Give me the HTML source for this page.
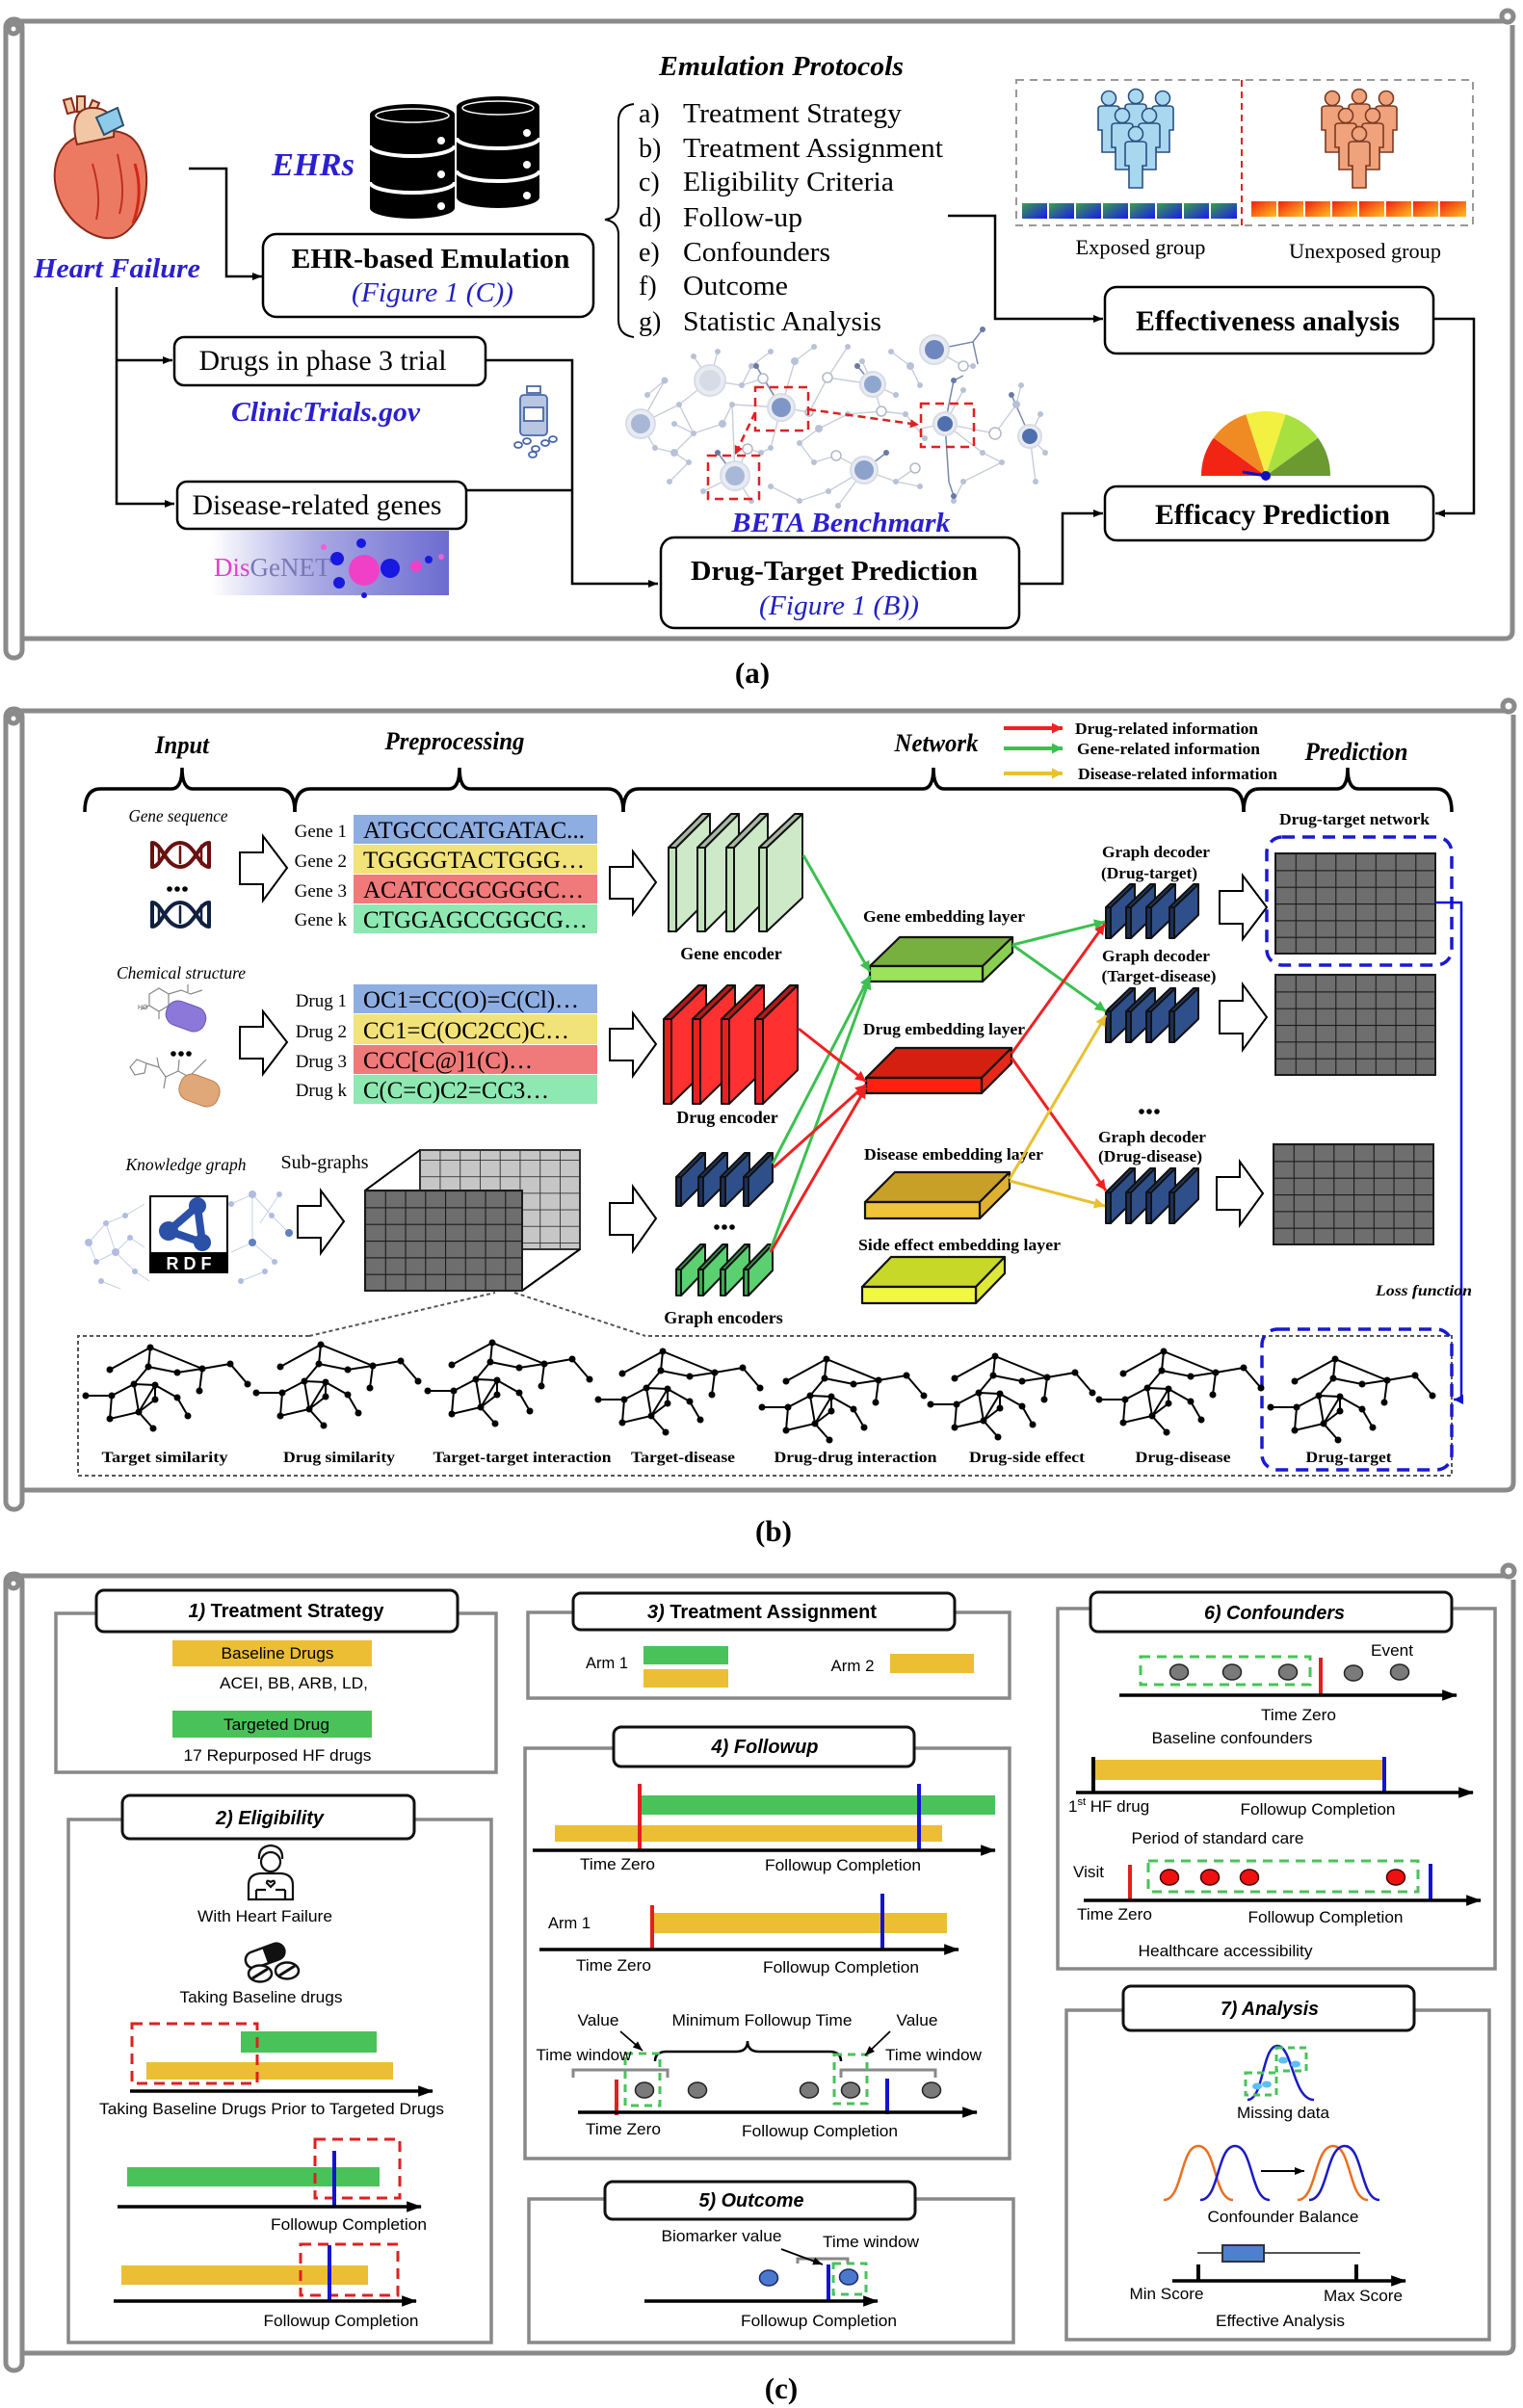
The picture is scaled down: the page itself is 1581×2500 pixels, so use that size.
<!DOCTYPE html>
<html><head><meta charset="utf-8">
<style>
html,body{margin:0;padding:0;background:#fff;}
svg{display:block;}
.s{font-family:"Liberation Serif",serif;}
.a{font-family:"Liberation Sans",sans-serif;}
</style></head><body>
<svg width="1581" height="2500" viewBox="0 0 1581 2500" xmlns="http://www.w3.org/2000/svg">
<defs>
<marker id="ak" viewBox="0 0 10 10" refX="10" refY="5" markerWidth="11" markerHeight="10" markerUnits="userSpaceOnUse" orient="auto"><path d="M0,1 L10,5 L0,9 z" fill="#000"/></marker>
<marker id="akb" viewBox="0 0 14 10" refX="13" refY="5" markerWidth="16" markerHeight="12" markerUnits="userSpaceOnUse" orient="auto"><path d="M0,0 L14,5 L0,10 z" fill="#000"/></marker>
<marker id="ar" viewBox="0 0 10 10" refX="10" refY="5" markerWidth="13" markerHeight="11" markerUnits="userSpaceOnUse" orient="auto"><path d="M0,0 L10,5 L0,10 z" fill="#ee2222"/></marker>
<marker id="ag" viewBox="0 0 10 10" refX="10" refY="5" markerWidth="13" markerHeight="11" markerUnits="userSpaceOnUse" orient="auto"><path d="M0,0 L10,5 L0,10 z" fill="#3cc050"/></marker>
<marker id="ay" viewBox="0 0 10 10" refX="10" refY="5" markerWidth="13" markerHeight="11" markerUnits="userSpaceOnUse" orient="auto"><path d="M0,0 L10,5 L0,10 z" fill="#e8c030"/></marker>
<marker id="ab" viewBox="0 0 10 10" refX="10" refY="5" markerWidth="11" markerHeight="10" markerUnits="userSpaceOnUse" orient="auto"><path d="M0,0 L10,5 L0,10 z" fill="#1010e0"/></marker>
<marker id="ard" viewBox="0 0 10 10" refX="10" refY="5" markerWidth="10" markerHeight="9" markerUnits="userSpaceOnUse" orient="auto"><path d="M0,0 L10,5 L0,10 z" fill="#e02020"/></marker>
<linearGradient id="gb" x1="0" y1="0" x2="1" y2="1"><stop offset="0" stop-color="#3aa048"/><stop offset="1" stop-color="#1818f0"/></linearGradient>
<linearGradient id="go" x1="0" y1="0" x2="1" y2="1"><stop offset="0" stop-color="#f02010"/><stop offset="1" stop-color="#ffc020"/></linearGradient>
<linearGradient id="gd" x1="0" y1="0" x2="1" y2="0"><stop offset="0" stop-color="#ffffff"/><stop offset="0.45" stop-color="#a8a8e4"/><stop offset="1" stop-color="#6c6cd0"/></linearGradient>
<pattern id="pd" patternUnits="userSpaceOnUse" width="20.75" height="17.33"><rect width="20.75" height="17.33" fill="#6e6e6e"/><path d="M0,0 H20.75 M0,0 V17.33" stroke="#1a1a1a" stroke-width="2.2"/></pattern>
<pattern id="pl" patternUnits="userSpaceOnUse" width="20.75" height="17.2"><rect width="20.75" height="17.2" fill="#c6c6c6"/><path d="M0,0 H20.75 M0,0 V17.2" stroke="#333" stroke-width="1.8"/></pattern>
<g id="person">
<circle cx="0" cy="0" r="7.5"/>
<path d="M-11,11 Q-11,8 -7,8 L7,8 Q11,8 11,11 L11,33 L7,33 L7,56 L-7,56 L-7,33 L-11,33 Z"/>
</g>
<g id="gr">
<g stroke="#000" stroke-width="2" fill="none">
<path d="M68,6 L26,29 M68,6 L66,26 M68,6 L122,28 M66,26 L96,32 L122,28 L151,23 L169,44 M122,28 L119,51 M66,26 L51,44 L73,45 L96,58 L107,77 M51,44 L28,56 L1,56 M28,56 L26,80 L56,73 L73,60 L73,45 M51,44 L56,73 L71,90 M73,45 L56,73"/>
</g>
<g fill="#000">
<circle cx="68" cy="6" r="3.5"/><circle cx="26" cy="29" r="3.5"/><circle cx="66" cy="26" r="3.5"/><circle cx="96" cy="32" r="3.5"/><circle cx="122" cy="28" r="3.5"/><circle cx="151" cy="23" r="3.5"/><circle cx="169" cy="44" r="3.5"/><circle cx="119" cy="51" r="3.5"/><circle cx="51" cy="44" r="3.5"/><circle cx="73" cy="45" r="3.5"/><circle cx="28" cy="56" r="3.5"/><circle cx="1" cy="56" r="3.5"/><circle cx="73" cy="60" r="3.5"/><circle cx="96" cy="58" r="3.5"/><circle cx="56" cy="73" r="3.5"/><circle cx="26" cy="80" r="3.5"/><circle cx="107" cy="77" r="3.5"/><circle cx="71" cy="90" r="3.5"/>
</g>
</g>
</defs>
<rect width="1581" height="2500" fill="#fff"/>

<!-- FRAMES -->
<g fill="none" stroke="#8a8a8a" stroke-width="5">
<path d="M14,22 H1562 M1570,26 V655 Q1570,663 1562,663 H22"/>
<rect x="6" y="20" width="17" height="663" rx="8"/>
<circle cx="1565" cy="17" r="6"/><circle cx="14" cy="30" r="5"/>
<path d="M14,738 H1562 M1571,742 V1539 Q1571,1547 1563,1547 H22"/>
<rect x="6" y="736" width="17" height="831" rx="8"/>
<circle cx="1566" cy="733" r="6"/><circle cx="14" cy="746" r="5"/>
<path d="M14,1636 H1562 M1571,1640 V2435 Q1571,2443 1563,2443 H22"/>
<rect x="6" y="1634" width="17" height="827" rx="8"/>
<circle cx="1566" cy="1631" r="6"/><circle cx="14" cy="1644" r="5"/>
</g>
<text x="781" y="709" class="s" font-size="31" font-weight="bold" text-anchor="middle">(a)</text>
<text x="803" y="1600" class="s" font-size="31" font-weight="bold" text-anchor="middle">(b)</text>
<text x="811" y="2490" class="s" font-size="31" font-weight="bold" text-anchor="middle">(c)</text>

<!-- ========== PANEL A ========== -->
<g stroke="#8a2a18" stroke-width="2">
<path d="M70,118 L66,104 L74,102 L78,116 Z" fill="#f2c7a6"/>
<path d="M80,116 L80,100 L88,100 L88,116 Z" fill="#f2c7a6"/>
<path d="M90,118 L96,104 L103,107 L97,120 Z" fill="#f2c7a6"/>
<path d="M68,150 C48,172 54,218 90,240 C112,253 132,250 146,220 C158,190 152,150 132,140 C116,132 86,134 68,150 Z" fill="#ec7a62"/>
<path d="M80,150 C74,128 78,112 96,112 C112,112 120,122 118,142 Z" fill="#f2c7a6"/>
<path d="M100,122 L122,112 L128,130 L108,140 Z" fill="#8ecbe8" stroke="#2a5070"/>
<path d="M96,170 C102,190 104,210 100,228 M122,160 C126,180 130,200 124,222" fill="none" stroke="#c03020"/>
<path d="M140,170 C146,190 146,210 138,232" fill="none" stroke="#d02818" stroke-width="3"/>
</g>
<text x="35" y="288" class="s" font-size="29" font-weight="bold" font-style="italic" fill="#2b1fd0" textLength="173" lengthAdjust="spacingAndGlyphs">Heart Failure</text>
<text x="282" y="182" class="s" font-size="34" font-weight="bold" font-style="italic" fill="#2b1fd0" textLength="86" lengthAdjust="spacingAndGlyphs">EHRs</text>
<g>
<path d="M384,119 A44,11 0 0 1 472,119 L472,216 A44,11 0 0 1 384,216 Z" fill="#000"/>
<ellipse cx="428" cy="120" rx="38" ry="7" fill="none" stroke="#fff" stroke-width="1.5"/>
<path d="M384,151 A44,11 0 0 0 472,151 M384,189 A44,11 0 0 0 472,189" fill="none" stroke="#fff" stroke-width="4"/>
<circle cx="458" cy="146" r="4" fill="#fff"/><circle cx="458" cy="181" r="4" fill="#fff"/><circle cx="458" cy="214" r="4" fill="#fff"/>
<path d="M474,111 A43,11 0 0 1 560,111 L560,205 A43,11 0 0 1 474,205 Z" fill="#000"/>
<ellipse cx="517" cy="112" rx="37" ry="7" fill="none" stroke="#fff" stroke-width="1.5"/>
<path d="M474,143 A43,11 0 0 0 560,143 M474,177 A43,11 0 0 0 560,177" fill="none" stroke="#fff" stroke-width="4"/>
<circle cx="547" cy="138" r="4" fill="#fff"/><circle cx="547" cy="171" r="4" fill="#fff"/><circle cx="547" cy="203" r="4" fill="#fff"/>
</g>
<polyline points="196,175 235,175 235,287 272,287" fill="none" stroke="#000" stroke-width="2.5" marker-end="url(#ak)"/>
<rect x="273" y="243" width="343" height="86" rx="14" fill="#fff" stroke="#000" stroke-width="2.5"/>
<text x="447" y="278" class="s" font-size="28" font-weight="bold" text-anchor="middle" textLength="289" lengthAdjust="spacingAndGlyphs">EHR-based Emulation</text>
<text x="449" y="313" class="s" font-size="28" font-style="italic" fill="#2020c0" text-anchor="middle" textLength="168" lengthAdjust="spacingAndGlyphs">(Figure 1 (C))</text>
<path d="M658,108 Q642,110 642,126 L642,212 Q642,226 628,228 Q642,230 642,244 L642,332 Q642,348 658,350" fill="none" stroke="#000" stroke-width="2"/>
<text x="684" y="78" class="s" font-size="28" font-weight="bold" font-style="italic" textLength="254" lengthAdjust="spacingAndGlyphs">Emulation Protocols</text>
<g class="s" font-size="28">
<text x="663" y="127">a)</text><text x="709" y="127" textLength="227" lengthAdjust="spacingAndGlyphs">Treatment Strategy</text>
<text x="663" y="163">b)</text><text x="709" y="163" textLength="270" lengthAdjust="spacingAndGlyphs">Treatment Assignment</text>
<text x="663" y="198">c)</text><text x="709" y="198" textLength="219" lengthAdjust="spacingAndGlyphs">Eligibility Criteria</text>
<text x="663" y="235">d)</text><text x="709" y="235" textLength="124" lengthAdjust="spacingAndGlyphs">Follow-up</text>
<text x="663" y="271">e)</text><text x="709" y="271" textLength="153" lengthAdjust="spacingAndGlyphs">Confounders</text>
<text x="663" y="306">f)</text><text x="709" y="306" textLength="109" lengthAdjust="spacingAndGlyphs">Outcome</text>
<text x="663" y="343">g)</text><text x="709" y="343" textLength="206" lengthAdjust="spacingAndGlyphs">Statistic Analysis</text>
</g>
<path d="M665,440 L690,395 M665,440 L705,420 M665,440 L680,465 M680,465 L700,470 M700,470 L720,450 M720,450 L705,420 M705,420 L737,395 M737,395 L720,370 M737,395 L745,365 M737,395 L770,400 M770,400 L780,380 M780,380 L800,365 M770,400 L792,393 M792,393 L811,423 M811,423 L760,420 M760,420 L750,440 M750,440 L720,450 M811,423 L840,428 M840,428 L859,392 M859,392 L880,360 M859,392 L906,399 M906,399 L895,375 M906,399 L930,410 M906,399 L915,427 M915,427 L940,430 M940,430 L960,455 M915,427 L880,430 M880,430 L850,445 M850,445 L830,460 M830,460 L845,480 M845,480 L868,473 M868,473 L897,488 M897,488 L860,510 M860,510 L830,520 M897,488 L930,500 M930,500 L950,486 M897,488 L870,525 M811,423 L800,465 M800,465 L790,470 M763,494 L730,510 M763,494 L780,520 M763,494 L776,466 M776,466 L790,470 M695,500 L715,480 M715,480 L700,470 M970,363 L1000,380 M1000,380 L1010,380 M981,440 L1000,405 M981,440 L1020,470 M981,440 L955,445 M981,440 L1033,450 M1033,450 L1055,420 M1055,420 L1060,400 M1069,453 L1080,430 M1069,453 L1085,470 M1020,470 L1040,480 M1040,480 L1000,500 M1000,500 L990,520 M1069,453 L1075,500 M945,380 L925,365 M955,400 L945,380 M825,375 L845,360 M825,375 L811,423 M672,410 L690,395 M700,440 L720,450 M760,420 L763,494 M830,520 L800,505 M930,500 L955,505" fill="none" stroke="#c8cdd9" stroke-width="1.4"/>
<path d="M811,423 L785,380 M981,440 L990,395 L1000,390 M981,440 L985,500 L990,515 M1069,453 L1050,410 M970,363 L1010,355 L1020,342 M1010,355 L1015,378 M906,399 L890,380 M897,488 L920,470 M763,494 L745,470" fill="none" stroke="#7888aa" stroke-width="1.5"/>
<g fill="#e8ebf2" stroke="#d8dce6" stroke-width="2">
<circle cx="737" cy="395" r="16"/><circle cx="665" cy="440" r="15"/><circle cx="811" cy="423" r="14"/><circle cx="763" cy="494" r="15"/><circle cx="906" cy="399" r="13"/><circle cx="897" cy="488" r="14"/><circle cx="970" cy="363" r="15"/><circle cx="981" cy="440" r="12"/><circle cx="1069" cy="453" r="12"/>
</g>
<circle cx="737" cy="395" r="11" fill="#d6dbe6"/><circle cx="665" cy="440" r="10" fill="#a9b7d6"/><circle cx="811" cy="423" r="10" fill="#7f97c6"/><circle cx="763" cy="494" r="10" fill="#a8b8d8"/><circle cx="906" cy="399" r="9" fill="#8fa6cf"/><circle cx="897" cy="488" r="10" fill="#8ca2cb"/><circle cx="970" cy="363" r="10" fill="#6f87bf"/><circle cx="981" cy="440" r="8" fill="#4f6faf"/><circle cx="1069" cy="453" r="8" fill="#4f6faf"/>
<g fill="#b8c2d6">
<circle cx="672" cy="410" r="3"/><circle cx="690" cy="395" r="3.5"/><circle cx="705" cy="420" r="3"/><circle cx="680" cy="465" r="3"/><circle cx="700" cy="470" r="4"/><circle cx="720" cy="450" r="3"/><circle cx="715" cy="480" r="3"/><circle cx="695" cy="500" r="3"/><circle cx="730" cy="510" r="3"/><circle cx="750" cy="440" r="4"/><circle cx="760" cy="420" r="3"/><circle cx="770" cy="400" r="3"/><circle cx="780" cy="380" r="3"/><circle cx="800" cy="365" r="3"/><circle cx="825" cy="375" r="4"/><circle cx="845" cy="360" r="3"/><circle cx="880" cy="360" r="3"/><circle cx="895" cy="375" r="3"/><circle cx="925" cy="365" r="3"/><circle cx="945" cy="380" r="4"/><circle cx="930" cy="410" r="3"/><circle cx="955" cy="400" r="3"/><circle cx="940" cy="430" r="3"/><circle cx="960" cy="455" r="3"/><circle cx="880" cy="430" r="3"/><circle cx="850" cy="445" r="4"/><circle cx="830" cy="460" r="3"/><circle cx="845" cy="480" r="3"/><circle cx="860" cy="510" r="3"/><circle cx="830" cy="520" r="3"/><circle cx="800" cy="505" r="3"/><circle cx="780" cy="520" r="3"/><circle cx="870" cy="525" r="3"/><circle cx="930" cy="500" r="3"/><circle cx="955" cy="505" r="3"/><circle cx="1000" cy="405" r="3"/><circle cx="1010" cy="380" r="3"/><circle cx="1020" cy="470" r="3"/><circle cx="1040" cy="480" r="3"/><circle cx="1055" cy="420" r="4"/><circle cx="1060" cy="400" r="3"/><circle cx="1080" cy="430" r="3"/><circle cx="1085" cy="470" r="3"/><circle cx="1000" cy="500" r="3"/><circle cx="990" cy="520" r="3"/><circle cx="1075" cy="500" r="3"/><circle cx="720" cy="370" r="3"/><circle cx="745" cy="365" r="3"/><circle cx="700" cy="440" r="3"/><circle cx="790" cy="470" r="3"/><circle cx="800" cy="465" r="3"/>
</g>
<g fill="#6a7aa4"><circle cx="785" cy="380" r="3"/><circle cx="990" cy="395" r="3"/><circle cx="1020" cy="342" r="3"/><circle cx="990" cy="515" r="3"/><circle cx="1050" cy="410" r="3"/><circle cx="890" cy="380" r="3"/><circle cx="745" cy="470" r="3"/><circle cx="920" cy="470" r="3"/></g>
<g fill="#fff" stroke="#b0b8c8" stroke-width="1.5"><circle cx="792" cy="393" r="5"/><circle cx="859" cy="392" r="5"/><circle cx="915" cy="427" r="5"/><circle cx="950" cy="486" r="5"/><circle cx="868" cy="473" r="5"/><circle cx="1033" cy="450" r="6"/><circle cx="776" cy="466" r="5"/><circle cx="1000" cy="380" r="5"/><circle cx="840" cy="428" r="4"/></g>
<g fill="none" stroke="#e02020" stroke-width="2.5" stroke-dasharray="9,6">
<rect x="784" y="402" width="55" height="45"/><rect x="735" y="473" width="53" height="45"/><rect x="956" y="419" width="55" height="45"/>
</g>
<line x1="839" y1="425" x2="954" y2="441" stroke="#e02020" stroke-width="2.5" stroke-dasharray="8,5" marker-end="url(#ard)"/>
<line x1="784" y1="428" x2="763" y2="472" stroke="#e02020" stroke-width="2.5" stroke-dasharray="8,5" marker-end="url(#ard)"/>
<text x="873" y="552" class="s" font-size="28" font-weight="bold" font-style="italic" fill="#2b1fd0" text-anchor="middle" textLength="227" lengthAdjust="spacingAndGlyphs">BETA Benchmark</text>
<polyline points="121,298 121,523 181,523" fill="none" stroke="#000" stroke-width="2.5" marker-end="url(#ak)"/>
<polyline points="121,374 179,374" fill="none" stroke="#000" stroke-width="2.5" marker-end="url(#ak)"/>
<rect x="181" y="350" width="323" height="50" rx="10" fill="#fff" stroke="#000" stroke-width="2.5"/>
<text x="335" y="384" class="s" font-size="30" text-anchor="middle" textLength="257" lengthAdjust="spacingAndGlyphs">Drugs in phase 3 trial</text>
<text x="240" y="437" class="s" font-size="28" font-weight="bold" font-style="italic" fill="#2b1fd0" textLength="196" lengthAdjust="spacingAndGlyphs">ClinicTrials.gov</text>
<g stroke="#4868a8" stroke-width="1.8">
<rect x="547" y="401" width="14" height="7" fill="#fff"/>
<rect x="540" y="410" width="28" height="42" rx="4" fill="#b8c6e2"/>
<rect x="544" y="423" width="20" height="14" fill="#fff"/>
<ellipse cx="538" cy="462" rx="4" ry="3" fill="#fff"/><ellipse cx="547" cy="458" rx="4" ry="3" fill="#fff"/><ellipse cx="556" cy="466" rx="4" ry="3" fill="#fff"/><ellipse cx="566" cy="460" rx="4" ry="3" fill="#fff"/><ellipse cx="574" cy="456" rx="4" ry="3" fill="#fff"/><ellipse cx="553" cy="472" rx="4" ry="3" fill="#fff"/>
</g>
<rect x="184" y="500" width="300" height="49" rx="10" fill="#fff" stroke="#000" stroke-width="2.5"/>
<text x="329" y="534" class="s" font-size="30" text-anchor="middle" textLength="259" lengthAdjust="spacingAndGlyphs">Disease-related genes</text>
<rect x="219" y="551" width="247" height="67" fill="url(#gd)"/>
<text x="222" y="598" class="s" font-size="27"><tspan fill="#e040c8">Dis</tspan><tspan fill="#7878b8">GeNET</tspan></text>
<circle cx="378" cy="592" r="16" fill="#f040c8"/><circle cx="405" cy="590" r="10" fill="#1818e0"/><circle cx="350" cy="580" r="7" fill="#1818e0"/><circle cx="352" cy="605" r="6" fill="#1818e0"/><circle cx="432" cy="588" r="6" fill="#f040c8"/><circle cx="445" cy="581" r="4" fill="#1818e0"/><circle cx="375" cy="564" r="5" fill="#1818e0"/><circle cx="336" cy="568" r="3" fill="#f060d0"/><circle cx="378" cy="618" r="3" fill="#1818e0"/><circle cx="458" cy="578" r="3" fill="#f060d0"/>
<polyline points="504,374 594,374 594,606 683,606" fill="none" stroke="#000" stroke-width="2.5" marker-end="url(#ak)"/>
<line x1="484" y1="509" x2="594" y2="509" stroke="#000" stroke-width="2.5"/>
<rect x="686" y="558" width="372" height="94" rx="14" fill="#fff" stroke="#000" stroke-width="2.5"/>
<text x="866" y="602" class="s" font-size="28" font-weight="bold" text-anchor="middle" textLength="298" lengthAdjust="spacingAndGlyphs">Drug-Target Prediction</text>
<text x="871" y="638" class="s" font-size="28" font-style="italic" fill="#2020c0" text-anchor="middle" textLength="166" lengthAdjust="spacingAndGlyphs">(Figure 1 (B))</text>
<rect x="1055" y="83" width="474" height="151" fill="none" stroke="#999" stroke-width="2" stroke-dasharray="8,6"/>
<line x1="1289" y1="83" x2="1289" y2="234" stroke="#e02020" stroke-width="2" stroke-dasharray="7,5"/>
<g fill="#a8d8f0" stroke="#2a5080" stroke-width="1.6">
<use href="#person" x="1151" y="102"/><use href="#person" x="1207" y="102"/><use href="#person" x="1179" y="100"/>
<use href="#person" x="1165" y="120"/><use href="#person" x="1193" y="120"/><use href="#person" x="1179" y="139"/>
</g>
<g fill="#f0a27c" stroke="#7a3a20" stroke-width="1.6">
<use href="#person" x="1383" y="102"/><use href="#person" x="1439" y="102"/><use href="#person" x="1411" y="100"/>
<use href="#person" x="1397" y="120"/><use href="#person" x="1425" y="120"/><use href="#person" x="1411" y="139"/>
</g>
<g fill="url(#gb)"><rect x="1061" y="211" width="26" height="16"/><rect x="1089" y="211" width="26" height="16"/><rect x="1117" y="211" width="26" height="16"/><rect x="1145" y="211" width="26" height="16"/><rect x="1173" y="211" width="26" height="16"/><rect x="1201" y="211" width="26" height="16"/><rect x="1229" y="211" width="26" height="16"/><rect x="1257" y="211" width="27" height="16"/></g>
<g fill="url(#go)"><rect x="1299" y="209" width="26" height="16"/><rect x="1327" y="209" width="26" height="16"/><rect x="1355" y="209" width="26" height="16"/><rect x="1383" y="209" width="26" height="16"/><rect x="1411" y="209" width="26" height="16"/><rect x="1439" y="209" width="26" height="16"/><rect x="1467" y="209" width="26" height="16"/><rect x="1495" y="209" width="27" height="16"/></g>
<text x="1184" y="264" class="s" font-size="22" text-anchor="middle" textLength="135" lengthAdjust="spacingAndGlyphs">Exposed group</text>
<text x="1417" y="268" class="s" font-size="22" text-anchor="middle" textLength="158" lengthAdjust="spacingAndGlyphs">Unexposed group</text>
<polyline points="984,224 1033,224 1033,331 1145,331" fill="none" stroke="#000" stroke-width="2.5" marker-end="url(#ak)"/>
<rect x="1147" y="298" width="341" height="69" rx="12" fill="#fff" stroke="#000" stroke-width="2.5"/>
<text x="1316" y="343" class="s" font-size="30" font-weight="bold" text-anchor="middle" textLength="274" lengthAdjust="spacingAndGlyphs">Effectiveness analysis</text>
<polyline points="1488,331 1530,331 1530,533 1490,533" fill="none" stroke="#000" stroke-width="2.5" marker-end="url(#ak)"/>
<polyline points="1058,606 1103,606 1103,533 1145,533" fill="none" stroke="#000" stroke-width="2.5" marker-end="url(#ak)"/>
<rect x="1147" y="505" width="341" height="56" rx="12" fill="#fff" stroke="#000" stroke-width="2.5"/>
<text x="1321" y="544" class="s" font-size="30" font-weight="bold" text-anchor="middle" textLength="244" lengthAdjust="spacingAndGlyphs">Efficacy Prediction</text>
<path d="M1314,494 L1247,494 A67,67 0 0 1 1259.8,454.6 Z" fill="#f22414"/>
<path d="M1314,494 L1259.8,454.6 A67,67 0 0 1 1293.3,430.3 Z" fill="#f08a22"/>
<path d="M1314,494 L1293.3,430.3 A67,67 0 0 1 1334.7,430.3 Z" fill="#f2f040"/>
<path d="M1314,494 L1334.7,430.3 A67,67 0 0 1 1368.2,454.6 Z" fill="#a8e040"/>
<path d="M1314,494 L1368.2,454.6 A67,67 0 0 1 1381,494 Z" fill="#6a9a30"/>
<line x1="1314" y1="494" x2="1290" y2="490" stroke="#1010c0" stroke-width="3"/>
<circle cx="1314" cy="494" r="5" fill="#1010c0"/>

<!-- ========== PANEL B ========== -->
<g class="s" font-weight="bold" font-style="italic" font-size="26">
<text x="189" y="782" text-anchor="middle" textLength="56" lengthAdjust="spacingAndGlyphs">Input</text>
<text x="472" y="778" text-anchor="middle" textLength="145" lengthAdjust="spacingAndGlyphs">Preprocessing</text>
<text x="972" y="780" text-anchor="middle" textLength="87" lengthAdjust="spacingAndGlyphs">Network</text>
<text x="1408" y="789" text-anchor="middle" textLength="107" lengthAdjust="spacingAndGlyphs">Prediction</text>
</g>
<g fill="none" stroke="#000" stroke-width="3.5">
<path d="M88,843 Q88,819 104,819 L178,819 Q189,819 189,797 Q189,819 200,819 L290,819 Q306,819 306,843"/>
<path d="M306,843 Q306,819 322,819 L466,819 Q477,819 477,797 Q477,819 488,819 L631,819 Q647,819 647,843"/>
<path d="M647,843 Q647,819 663,819 L958,819 Q969,819 969,797 Q969,819 980,819 L1275,819 Q1291,819 1291,843"/>
<path d="M1291,843 Q1291,819 1307,819 L1388,819 Q1399,819 1399,797 Q1399,819 1410,819 L1491,819 Q1507,819 1507,843"/>
</g>
<line x1="1042" y1="756" x2="1103" y2="756" stroke="#ee2222" stroke-width="4" marker-end="url(#ar)"/>
<line x1="1042" y1="777" x2="1103" y2="777" stroke="#3cc050" stroke-width="4" marker-end="url(#ag)"/>
<line x1="1042" y1="803" x2="1103" y2="803" stroke="#e8c030" stroke-width="4" marker-end="url(#ay)"/>
<g class="s" font-weight="bold" font-size="17">
<text x="1116" y="762" textLength="190" lengthAdjust="spacingAndGlyphs">Drug-related information</text>
<text x="1118" y="783" textLength="190" lengthAdjust="spacingAndGlyphs">Gene-related information</text>
<text x="1119" y="809" textLength="207" lengthAdjust="spacingAndGlyphs">Disease-related information</text>
</g>
<g class="s" font-style="italic" font-size="18">
<text x="185" y="853" text-anchor="middle" textLength="103" lengthAdjust="spacingAndGlyphs">Gene sequence</text>
<text x="188" y="1016" text-anchor="middle" textLength="134" lengthAdjust="spacingAndGlyphs">Chemical structure</text>
<text x="193" y="1215" text-anchor="middle" textLength="125" lengthAdjust="spacingAndGlyphs">Knowledge graph</text>
</g>
<!-- DNA -->
<g fill="none" stroke-width="4" stroke-linecap="round">
<path d="M158,900 C168,900 172,875 187,875 C202,875 206,900 217,900 M158,875 C168,875 172,900 187,900 C202,900 206,875 217,875 M158,875 V900 M217,875 V900" stroke="#6a1010"/>
<path d="M165,878 V897 M187,879 V896 M209,878 V897" stroke="#6a1010" stroke-width="2.5"/>
<path d="M158,962 C168,962 172,937 187,937 C202,937 206,962 217,962 M158,937 C168,937 172,962 187,962 C202,962 206,937 217,937 M158,937 V962 M217,937 V962" stroke="#102040"/>
<path d="M165,940 V959 M187,941 V958 M209,940 V959" stroke="#102040" stroke-width="2.5"/>
</g>
<g fill="#000"><circle cx="176" cy="923" r="2.8"/><circle cx="184" cy="923" r="2.8"/><circle cx="192" cy="923" r="2.8"/></g>
<!-- chem -->
<g fill="none" stroke="#888" stroke-width="1.2">
<path d="M155,1032 L165,1026 L175,1032 L175,1044 L165,1050 L155,1044 Z M175,1032 L188,1028 L198,1032 L210,1028 M195,1022 V1030 M155,1044 L146,1048 M165,1050 L165,1058"/>
<path d="M135,1108 L142,1100 L152,1104 L150,1114 L140,1116 Z M152,1104 L165,1108 L172,1118 L185,1112 L196,1118 L206,1108 M172,1118 L170,1130 M196,1118 L198,1132 M206,1108 L214,1100 M165,1108 L163,1098 M185,1112 L186,1100"/>
</g>
<text x="143" y="1048" class="a" font-size="7" fill="#666">HO</text>
<rect x="172" y="1042" width="42" height="26" rx="12" transform="rotate(20 193 1055)" fill="#8c78d8" stroke="#6a58b8"/>
<rect x="186" y="1118" width="42" height="28" rx="12" transform="rotate(20 207 1132)" fill="#e0a878" stroke="#b88050"/>
<g fill="#000"><circle cx="180" cy="1094" r="2.8"/><circle cx="188" cy="1094" r="2.8"/><circle cx="196" cy="1094" r="2.8"/></g>
<!-- KG -->
<g stroke="#c8d0e4" stroke-width="1" fill="none">
<path d="M92,1290 L110,1270 L130,1262 L150,1250 M100,1310 L120,1300 L140,1320 L155,1330 M92,1290 L100,1310 M240,1250 L262,1240 L282,1262 L300,1280 M240,1300 L262,1290 L285,1310 M262,1240 L262,1290 M110,1270 L120,1300 M250,1330 L275,1320 M120,1300 L135,1285 L150,1295 M105,1330 L125,1338 M270,1270 L290,1240"/>
</g>
<g fill="#b0bce0"><circle cx="92" cy="1290" r="4"/><circle cx="110" cy="1270" r="3"/><circle cx="130" cy="1262" r="3"/><circle cx="100" cy="1310" r="3"/><circle cx="120" cy="1300" r="4"/><circle cx="140" cy="1320" r="3"/><circle cx="262" cy="1240" r="4"/><circle cx="282" cy="1262" r="3"/><circle cx="300" cy="1280" r="4" fill="#6080c0"/><circle cx="262" cy="1290" r="4" fill="#6080c0"/><circle cx="285" cy="1310" r="3"/><circle cx="250" cy="1330" r="3"/><circle cx="275" cy="1320" r="3"/><circle cx="240" cy="1250" r="3"/><circle cx="135" cy="1285" r="3"/><circle cx="105" cy="1330" r="3"/><circle cx="290" cy="1240" r="3"/></g>
<rect x="156" y="1242" width="80" height="79" fill="#fff" stroke="#000" stroke-width="2"/>
<path d="M205,1252 L175,1278 L210,1290 Z" fill="none" stroke="#2a50a8" stroke-width="8"/>
<circle cx="205" cy="1252" r="9" fill="#2a50a8"/><circle cx="175" cy="1278" r="10" fill="#2a50a8"/><circle cx="210" cy="1290" r="9" fill="#2a50a8"/>
<rect x="156" y="1300" width="80" height="21" fill="#000"/>
<text x="196" y="1318" class="a" font-size="18" font-weight="bold" fill="#fff" text-anchor="middle">R D F</text>
<text x="337" y="1213" class="s" font-size="20" text-anchor="middle" textLength="91" lengthAdjust="spacingAndGlyphs">Sub-graphs</text>
<g fill="#fff" stroke="#000" stroke-width="2">
<path d="M249,885 H273 V868 L298,901 L273,935 V918 H249 Z"/>
<path d="M633,900 H657 V884 L681,916 L657,949 V933 H633 Z"/>
<path d="M249,1066 H273 V1050 L298,1082 L273,1115 V1099 H249 Z"/>
<path d="M633,1068 H657 V1052 L681,1084 L657,1117 V1101 H633 Z"/>
<path d="M309,1252 H333 V1236 L357,1268 L333,1301 V1285 H309 Z"/>
<path d="M633,1249 H657 V1232 L681,1265 L657,1299 V1282 H633 Z"/>
<path d="M1266,925 H1290 V909 L1315,942 L1290,975 V959 H1266 Z"/>
<path d="M1266,1039 H1290 V1022 L1315,1056 L1290,1090 V1073 H1266 Z"/>
<path d="M1263,1222 H1287 V1206 L1311,1239 L1287,1272 V1256 H1263 Z"/>
</g>
<rect x="367" y="846" width="253" height="30" fill="#8eaee2"/>
<rect x="367" y="877" width="253" height="30" fill="#f2e27a"/>
<rect x="367" y="908" width="253" height="30" fill="#f07a7a"/>
<rect x="367" y="939" width="253" height="30" fill="#8ee8b2"/>
<rect x="367" y="1022" width="253" height="30" fill="#8eaee2"/>
<rect x="367" y="1053" width="253" height="31" fill="#f2e27a"/>
<rect x="367" y="1085" width="253" height="30" fill="#f07a7a"/>
<rect x="367" y="1116" width="253" height="30" fill="#8ee8b2"/>
<g class="s" font-size="19" text-anchor="end">
<text x="360" y="869">Gene 1</text><text x="360" y="900">Gene 2</text><text x="360" y="931">Gene 3</text><text x="360" y="961">Gene k</text>
<text x="360" y="1045">Drug 1</text><text x="360" y="1077">Drug 2</text><text x="360" y="1108">Drug 3</text><text x="360" y="1138">Drug k</text>
</g>
<g class="s" font-size="25">
<text x="377" y="870" textLength="230" lengthAdjust="spacingAndGlyphs">ATGCCCATGATAC...</text>
<text x="377" y="901" textLength="230" lengthAdjust="spacingAndGlyphs">TGGGGTACTGGG…</text>
<text x="377" y="932" textLength="229" lengthAdjust="spacingAndGlyphs">ACATCCGCGGGC…</text>
<text x="377" y="963" textLength="233" lengthAdjust="spacingAndGlyphs">CTGGAGCCGGCG…</text>
<text x="377" y="1046" textLength="224" lengthAdjust="spacingAndGlyphs">OC1=CC(O)=C(Cl)…</text>
<text x="377" y="1078" textLength="214" lengthAdjust="spacingAndGlyphs">CC1=C(OC2CC)C…</text>
<text x="377" y="1109" textLength="176" lengthAdjust="spacingAndGlyphs">CCC[C@]1(C)…</text>
<text x="377" y="1140" textLength="193" lengthAdjust="spacingAndGlyphs">C(C=C)C2=CC3…</text>
</g>
<rect x="436" y="1194" width="166" height="103" fill="url(#pl)" stroke="#333" stroke-width="2"/>
<line x1="379" y1="1236" x2="436" y2="1194" stroke="#000" stroke-width="2"/>
<line x1="542" y1="1340" x2="602" y2="1297" stroke="#000" stroke-width="2"/>
<g transform="translate(379,1236)"><rect x="0" y="0" width="163" height="104" fill="url(#pd)" stroke="#1a1a1a" stroke-width="2"/></g>
<g stroke="#111" stroke-width="2" stroke-linejoin="round">
<path d="M694,880 L702,880 L737,845 L729,845 Z" fill="#a9b8a4"/><path d="M702,880 L737,845 L737,932 L702,967 Z" fill="#cde9c8"/><rect x="694" y="880" width="8" height="87" fill="#c2e2bc"/>
<path d="M724,880 L732,880 L767,845 L759,845 Z" fill="#a9b8a4"/><path d="M732,880 L767,845 L767,932 L732,967 Z" fill="#cde9c8"/><rect x="724" y="880" width="8" height="87" fill="#c2e2bc"/>
<path d="M754,880 L762,880 L797,845 L789,845 Z" fill="#a9b8a4"/><path d="M762,880 L797,845 L797,932 L762,967 Z" fill="#cde9c8"/><rect x="754" y="880" width="8" height="87" fill="#c2e2bc"/>
<path d="M788,880 L796,880 L833,845 L825,845 Z" fill="#a9b8a4"/><path d="M796,880 L833,845 L833,932 L796,967 Z" fill="#cde9c8"/><rect x="788" y="880" width="8" height="87" fill="#c2e2bc"/>
</g>
<g stroke="#111" stroke-width="2" stroke-linejoin="round">
<path d="M689,1058 L697,1058 L733,1023 L725,1023 Z" fill="#b81818"/><path d="M697,1058 L733,1023 L733,1111 L697,1146 Z" fill="#ff3030"/><rect x="689" y="1058" width="8" height="88" fill="#e82020"/>
<path d="M719,1058 L727,1058 L763,1023 L755,1023 Z" fill="#b81818"/><path d="M727,1058 L763,1023 L763,1111 L727,1146 Z" fill="#ff3030"/><rect x="719" y="1058" width="8" height="88" fill="#e82020"/>
<path d="M749,1058 L757,1058 L793,1023 L785,1023 Z" fill="#b81818"/><path d="M757,1058 L793,1023 L793,1111 L757,1146 Z" fill="#ff3030"/><rect x="749" y="1058" width="8" height="88" fill="#e82020"/>
<path d="M784,1058 L792,1058 L828,1023 L820,1023 Z" fill="#b81818"/><path d="M792,1058 L828,1023 L828,1111 L792,1146 Z" fill="#ff3030"/><rect x="784" y="1058" width="8" height="88" fill="#e82020"/>
</g>
<g stroke="#111" stroke-width="2" stroke-linejoin="round">
<path d="M707,1222 L732,1197 L732,1227 L707,1252 Z" fill="#2f4f8a"/><path d="M702,1222 L707,1222 L732,1197 L727,1197 Z" fill="#223a6a"/><rect x="702" y="1222" width="5" height="30" fill="#1c2f5a"/>
<path d="M730,1222 L755,1197 L755,1227 L730,1252 Z" fill="#2f4f8a"/><path d="M725,1222 L730,1222 L755,1197 L750,1197 Z" fill="#223a6a"/><rect x="725" y="1222" width="5" height="30" fill="#1c2f5a"/>
<path d="M753,1222 L778,1197 L778,1227 L753,1252 Z" fill="#2f4f8a"/><path d="M748,1222 L753,1222 L778,1197 L773,1197 Z" fill="#223a6a"/><rect x="748" y="1222" width="5" height="30" fill="#1c2f5a"/>
<path d="M777,1222 L802,1197 L802,1227 L777,1252 Z" fill="#2f4f8a"/><path d="M772,1222 L777,1222 L802,1197 L797,1197 Z" fill="#223a6a"/><rect x="772" y="1222" width="5" height="30" fill="#1c2f5a"/>
<path d="M707,1318 L732,1292 L732,1319 L707,1345 Z" fill="#5ad070"/><path d="M702,1318 L707,1318 L732,1292 L727,1292 Z" fill="#3a9a50"/><rect x="702" y="1318" width="5" height="27" fill="#38a850"/>
<path d="M730,1318 L755,1292 L755,1319 L730,1345 Z" fill="#5ad070"/><path d="M725,1318 L730,1318 L755,1292 L750,1292 Z" fill="#3a9a50"/><rect x="725" y="1318" width="5" height="27" fill="#38a850"/>
<path d="M753,1318 L778,1292 L778,1319 L753,1345 Z" fill="#5ad070"/><path d="M748,1318 L753,1318 L778,1292 L773,1292 Z" fill="#3a9a50"/><rect x="748" y="1318" width="5" height="27" fill="#38a850"/>
<path d="M777,1318 L802,1292 L802,1319 L777,1345 Z" fill="#5ad070"/><path d="M772,1318 L777,1318 L802,1292 L797,1292 Z" fill="#3a9a50"/><rect x="772" y="1318" width="5" height="27" fill="#38a850"/>
</g>
<g fill="#000"><circle cx="744" cy="1274" r="2.8"/><circle cx="752" cy="1274" r="2.8"/><circle cx="760" cy="1274" r="2.8"/></g>
<g class="s" font-weight="bold" font-size="18" text-anchor="middle">
<text x="759" y="996">Gene encoder</text>
<text x="755" y="1166">Drug encoder</text>
<text x="751" y="1374">Graph encoders</text>
</g>
<g stroke="#111" stroke-width="2.2" stroke-linejoin="round">
<path d="M903,1003 L1020,1003 L1051,973 L934,973 Z" fill="#78b040"/><path d="M1020,1003 L1051,973 L1051,989 L1020,1019 Z" fill="#8ad050"/><rect x="903" y="1003" width="117" height="16" fill="#9be45a"/>
<path d="M899,1119 L1019,1119 L1050,1088 L930,1088 Z" fill="#d42010"/><path d="M1019,1119 L1050,1088 L1050,1104 L1019,1135 Z" fill="#e82818"/><rect x="899" y="1119" width="120" height="16" fill="#ff2010"/>
<path d="M898,1248 L1017,1248 L1048,1217 L929,1217 Z" fill="#c8a028"/><path d="M1017,1248 L1048,1217 L1048,1234 L1017,1265 Z" fill="#e0b030"/><rect x="898" y="1248" width="119" height="17" fill="#f0c438"/>
<path d="M895,1336 L1013,1336 L1043,1305 L925,1305 Z" fill="#c8d828"/><path d="M1013,1336 L1043,1305 L1043,1322 L1013,1353 Z" fill="#dde838"/><rect x="895" y="1336" width="118" height="17" fill="#f0f840"/>
</g>
<g class="s" font-weight="bold" font-size="17" text-anchor="middle">
<text x="980" y="957" textLength="168" lengthAdjust="spacingAndGlyphs">Gene embedding layer</text>
<text x="980" y="1074" textLength="168" lengthAdjust="spacingAndGlyphs">Drug embedding layer</text>
<text x="990" y="1204" textLength="186" lengthAdjust="spacingAndGlyphs">Disease embedding layer</text>
<text x="996" y="1298" textLength="210" lengthAdjust="spacingAndGlyphs">Side effect  embedding layer</text>
<text x="1200" y="890" textLength="112" lengthAdjust="spacingAndGlyphs">Graph decoder</text>
<text x="1193" y="912" textLength="100" lengthAdjust="spacingAndGlyphs">(Drug-target)</text>
<text x="1200" y="998" textLength="112" lengthAdjust="spacingAndGlyphs">Graph decoder</text>
<text x="1203" y="1019" textLength="119" lengthAdjust="spacingAndGlyphs">(Target-disease)</text>
<text x="1196" y="1186" textLength="112" lengthAdjust="spacingAndGlyphs">Graph decoder</text>
<text x="1194" y="1206" textLength="108" lengthAdjust="spacingAndGlyphs">(Drug-disease)</text>
<text x="1406" y="856" textLength="156" lengthAdjust="spacingAndGlyphs">Drug-target network</text>
</g>
<g fill="#000"><circle cx="1185" cy="1154" r="2.8"/><circle cx="1193" cy="1154" r="2.8"/><circle cx="1201" cy="1154" r="2.8"/></g>
<g stroke="#111" stroke-width="2" stroke-linejoin="round">
<path d="M1153,942 L1178,918 L1178,950 L1153,974 Z" fill="#2f4f8a"/><path d="M1148,942 L1153,942 L1178,918 L1173,918 Z" fill="#223a6a"/><rect x="1148" y="942" width="5" height="32" fill="#1c2f5a"/>
<path d="M1174,942 L1199,918 L1199,950 L1174,974 Z" fill="#2f4f8a"/><path d="M1169,942 L1174,942 L1199,918 L1194,918 Z" fill="#223a6a"/><rect x="1169" y="942" width="5" height="32" fill="#1c2f5a"/>
<path d="M1195,942 L1220,918 L1220,950 L1195,974 Z" fill="#2f4f8a"/><path d="M1190,942 L1195,942 L1220,918 L1215,918 Z" fill="#223a6a"/><rect x="1190" y="942" width="5" height="32" fill="#1c2f5a"/>
<path d="M1219,942 L1244,918 L1244,950 L1219,974 Z" fill="#2f4f8a"/><path d="M1214,942 L1219,942 L1244,918 L1239,918 Z" fill="#223a6a"/><rect x="1214" y="942" width="5" height="32" fill="#1c2f5a"/>
<path d="M1153,1050 L1178,1026 L1178,1058 L1153,1082 Z" fill="#2f4f8a"/><path d="M1148,1050 L1153,1050 L1178,1026 L1173,1026 Z" fill="#223a6a"/><rect x="1148" y="1050" width="5" height="32" fill="#1c2f5a"/>
<path d="M1174,1050 L1199,1026 L1199,1058 L1174,1082 Z" fill="#2f4f8a"/><path d="M1169,1050 L1174,1050 L1199,1026 L1194,1026 Z" fill="#223a6a"/><rect x="1169" y="1050" width="5" height="32" fill="#1c2f5a"/>
<path d="M1195,1050 L1220,1026 L1220,1058 L1195,1082 Z" fill="#2f4f8a"/><path d="M1190,1050 L1195,1050 L1220,1026 L1215,1026 Z" fill="#223a6a"/><rect x="1190" y="1050" width="5" height="32" fill="#1c2f5a"/>
<path d="M1219,1050 L1244,1026 L1244,1058 L1219,1082 Z" fill="#2f4f8a"/><path d="M1214,1050 L1219,1050 L1244,1026 L1239,1026 Z" fill="#223a6a"/><rect x="1214" y="1050" width="5" height="32" fill="#1c2f5a"/>
<path d="M1153,1238 L1178,1213 L1178,1245 L1153,1270 Z" fill="#2f4f8a"/><path d="M1148,1238 L1153,1238 L1178,1213 L1173,1213 Z" fill="#223a6a"/><rect x="1148" y="1238" width="5" height="32" fill="#1c2f5a"/>
<path d="M1174,1238 L1199,1213 L1199,1245 L1174,1270 Z" fill="#2f4f8a"/><path d="M1169,1238 L1174,1238 L1199,1213 L1194,1213 Z" fill="#223a6a"/><rect x="1169" y="1238" width="5" height="32" fill="#1c2f5a"/>
<path d="M1195,1238 L1220,1213 L1220,1245 L1195,1270 Z" fill="#2f4f8a"/><path d="M1190,1238 L1195,1238 L1220,1213 L1215,1213 Z" fill="#223a6a"/><rect x="1190" y="1238" width="5" height="32" fill="#1c2f5a"/>
<path d="M1219,1238 L1244,1213 L1244,1245 L1219,1270 Z" fill="#2f4f8a"/><path d="M1214,1238 L1219,1238 L1244,1213 L1239,1213 Z" fill="#223a6a"/><rect x="1214" y="1238" width="5" height="32" fill="#1c2f5a"/>
</g>
<g stroke-width="3" fill="none">
<line x1="834" y1="888" x2="903" y2="1009" stroke="#3cc050" marker-end="url(#ag)"/>
<line x1="802" y1="1208" x2="903" y2="1013" stroke="#3cc050" marker-end="url(#ag)"/>
<line x1="800" y1="1297" x2="903" y2="1016" stroke="#3cc050" marker-end="url(#ag)"/>
<line x1="1051" y1="981" x2="1147" y2="957" stroke="#3cc050" marker-end="url(#ag)"/>
<line x1="1051" y1="981" x2="1148" y2="1050" stroke="#3cc050" marker-end="url(#ag)"/>
<line x1="829" y1="1068" x2="899" y2="1123" stroke="#ee2222" marker-end="url(#ar)"/>
<line x1="803" y1="1212" x2="899" y2="1126" stroke="#ee2222" marker-end="url(#ar)"/>
<line x1="800" y1="1300" x2="899" y2="1129" stroke="#ee2222" marker-end="url(#ar)"/>
<line x1="1050" y1="1094" x2="1147" y2="959" stroke="#ee2222" marker-end="url(#ar)"/>
<line x1="1050" y1="1098" x2="1148" y2="1236" stroke="#ee2222" marker-end="url(#ar)"/>
<line x1="1048" y1="1224" x2="1148" y2="1054" stroke="#e8c030" marker-end="url(#ay)"/>
<line x1="1048" y1="1226" x2="1147" y2="1252" stroke="#e8c030" marker-end="url(#ay)"/>
</g>
<g transform="translate(1324,886)"><rect width="166" height="104" fill="url(#pd)" stroke="#1a1a1a" stroke-width="2"/></g>
<g transform="translate(1324,1012)"><rect width="166" height="104" fill="url(#pd)" stroke="#1a1a1a" stroke-width="2"/></g>
<g transform="translate(1322,1188)"><rect width="166" height="104" fill="url(#pd)" stroke="#1a1a1a" stroke-width="2"/></g>
<rect x="1315" y="869" width="192" height="133" rx="16" fill="none" stroke="#1a1ad0" stroke-width="3.5" stroke-dasharray="13,8"/>
<polyline points="1490,937 1517,937 1517,1453 1509,1453" fill="none" stroke="#1010e0" stroke-width="2.5" marker-end="url(#ab)"/>
<text x="1478" y="1345" class="s" font-size="16" font-weight="bold" font-style="italic" text-anchor="middle" textLength="100" lengthAdjust="spacingAndGlyphs">Loss function</text>
<path d="M321,1387 L81,1387 L81,1532 L1507,1532 L1507,1387 L670,1387 M321,1387 L514,1342 M534,1342 L670,1387" fill="none" stroke="#555" stroke-width="2" stroke-dasharray="4,3"/>
<rect x="1310" y="1380" width="197" height="146" rx="16" fill="none" stroke="#1a1ad0" stroke-width="3.5" stroke-dasharray="13,8"/>
<use href="#gr" x="88" y="1393"/><use href="#gr" x="265" y="1390"/><use href="#gr" x="443" y="1388"/><use href="#gr" x="620" y="1397"/><use href="#gr" x="790" y="1405"/><use href="#gr" x="965" y="1402"/><use href="#gr" x="1140" y="1397"/><use href="#gr" x="1318" y="1405"/>
<g class="s" font-weight="bold" font-size="16" text-anchor="middle">
<text x="171" y="1518" textLength="131" lengthAdjust="spacingAndGlyphs">Target  similarity</text>
<text x="352" y="1518" textLength="116" lengthAdjust="spacingAndGlyphs">Drug similarity</text>
<text x="542" y="1518" textLength="185" lengthAdjust="spacingAndGlyphs">Target-target interaction</text>
<text x="709" y="1518" textLength="108" lengthAdjust="spacingAndGlyphs">Target-disease</text>
<text x="888" y="1518" textLength="169" lengthAdjust="spacingAndGlyphs">Drug-drug interaction</text>
<text x="1066" y="1518" textLength="120" lengthAdjust="spacingAndGlyphs">Drug-side effect</text>
<text x="1228" y="1518" textLength="99" lengthAdjust="spacingAndGlyphs">Drug-disease</text>
<text x="1400" y="1518" textLength="89" lengthAdjust="spacingAndGlyphs">Drug-target</text>
</g>

<!-- ========== PANEL C ========== -->
<g fill="none" stroke="#888" stroke-width="3.5">
<rect x="58" y="1675" width="457" height="165"/>
<rect x="71" y="1889" width="439" height="543"/>
<rect x="548" y="1674" width="500" height="89"/>
<rect x="545" y="1815" width="503" height="426"/>
<rect x="549" y="2283" width="503" height="149"/>
<rect x="1098" y="1670" width="454" height="374"/>
<rect x="1107" y="2087" width="439" height="342"/>
</g>
<g fill="#fff" stroke="#111" stroke-width="3">
<rect x="100" y="1651" width="375" height="43" rx="8"/>
<rect x="127" y="1864" width="303" height="45" rx="8"/>
<rect x="595" y="1654" width="396" height="38" rx="8"/>
<rect x="637" y="1793" width="312" height="41" rx="8"/>
<rect x="628" y="2265" width="322" height="39" rx="8"/>
<rect x="1132" y="1653" width="375" height="41" rx="8"/>
<rect x="1166" y="2062" width="302" height="46" rx="8"/>
</g>
<g class="a" font-weight="bold" font-size="20" text-anchor="middle">
<text x="297" y="1679" textLength="203" lengthAdjust="spacingAndGlyphs"><tspan font-style="italic">1)</tspan> Treatment Strategy</text>
<text x="280" y="1894" font-style="italic" textLength="112" lengthAdjust="spacingAndGlyphs">2) Eligibility</text>
<text x="791" y="1680" textLength="238" lengthAdjust="spacingAndGlyphs"><tspan font-style="italic">3)</tspan> Treatment Assignment</text>
<text x="794" y="1820" font-style="italic" textLength="111" lengthAdjust="spacingAndGlyphs">4) Followup</text>
<text x="780" y="2291" font-style="italic" textLength="109" lengthAdjust="spacingAndGlyphs">5) Outcome</text>
<text x="1323" y="1681" font-style="italic" textLength="146" lengthAdjust="spacingAndGlyphs">6) Confounders</text>
<text x="1318" y="2092" font-style="italic" textLength="102" lengthAdjust="spacingAndGlyphs">7) Analysis</text>
</g>
<rect x="179" y="1703" width="207" height="27" fill="#ebbe34"/>
<rect x="179" y="1776" width="207" height="28" fill="#4ac25a"/>
<g class="a" font-size="17" text-anchor="middle">
<text x="288" y="1722" textLength="117" lengthAdjust="spacingAndGlyphs">Baseline Drugs</text>
<text x="305" y="1753" textLength="154" lengthAdjust="spacingAndGlyphs">ACEI, BB, ARB, LD,</text>
<text x="287" y="1796" textLength="110" lengthAdjust="spacingAndGlyphs">Targeted Drug</text>
<text x="288" y="1828" textLength="195" lengthAdjust="spacingAndGlyphs">17 Repurposed HF drugs</text>
</g>
<g fill="none" stroke="#111" stroke-width="2.2">
<circle cx="281" cy="1933" r="10"/>
<path d="M269,1930 Q268,1917 281,1916 Q294,1917 293,1930"/>
<path d="M258,1972 V1957 Q258,1946 270,1945 L292,1945 Q304,1946 304,1957 V1972 Z"/>
<path d="M266,1972 V1962 M296,1972 V1962 M266,1962 H276 M286,1962 H296"/>
<path d="M281,1959 L277,1955 Q277,1951 281,1954 Q285,1951 285,1955 Z"/>
</g>
<g transform="rotate(-20 275 2030)"><rect x="254" y="2022" width="42" height="17" rx="8.5" fill="#fff" stroke="#111" stroke-width="2.5"/><path d="M275,2022 H287.5 A8.5,8.5 0 0 1 287.5,2039 H275 Z" fill="#111"/></g>
<g fill="#fff" stroke="#111" stroke-width="2.5"><ellipse cx="270" cy="2049" rx="12" ry="8.5"/><ellipse cx="298" cy="2046" rx="12" ry="8.5"/></g>
<path d="M262,2054 L278,2044 M290,2051 L306,2041" stroke="#111" stroke-width="3"/>
<g class="a" font-size="17" text-anchor="middle">
<text x="275" y="1995" textLength="140" lengthAdjust="spacingAndGlyphs">With Heart Failure</text>
<text x="271" y="2079" textLength="169" lengthAdjust="spacingAndGlyphs">Taking Baseline drugs</text>
<text x="282" y="2195" textLength="358" lengthAdjust="spacingAndGlyphs">Taking Baseline Drugs Prior to Targeted Drugs</text>
<text x="362" y="2315" textLength="162" lengthAdjust="spacingAndGlyphs">Followup Completion</text>
<text x="354" y="2415" textLength="161" lengthAdjust="spacingAndGlyphs">Followup Completion</text>
</g>
<rect x="250" y="2109" width="141" height="22" fill="#4ac25a"/>
<rect x="152" y="2141" width="256" height="18" fill="#ebbe34"/>
<rect x="137" y="2101" width="130" height="62" fill="none" stroke="#e02020" stroke-width="3" stroke-dasharray="11,7"/>
<line x1="135" y1="2171" x2="449" y2="2171" stroke="#000" stroke-width="3.5" marker-end="url(#akb)"/>
<rect x="132" y="2250" width="262" height="20" fill="#4ac25a"/>
<rect x="327" y="2221" width="88" height="61" fill="none" stroke="#e02020" stroke-width="3" stroke-dasharray="11,7"/>
<line x1="347" y1="2233" x2="347" y2="2290" stroke="#1414d0" stroke-width="4"/>
<line x1="122" y1="2291" x2="437" y2="2291" stroke="#000" stroke-width="3.5" marker-end="url(#akb)"/>
<rect x="126" y="2352" width="256" height="20" fill="#ebbe34"/>
<rect x="312" y="2330" width="101" height="53" fill="none" stroke="#e02020" stroke-width="3" stroke-dasharray="11,7"/>
<line x1="342" y1="2331" x2="342" y2="2388" stroke="#1414d0" stroke-width="4"/>
<line x1="118" y1="2389" x2="432" y2="2389" stroke="#000" stroke-width="3.5" marker-end="url(#akb)"/>
<rect x="668" y="1709" width="88" height="19" fill="#4ac25a"/>
<rect x="668" y="1733" width="88" height="19" fill="#ebbe34"/>
<rect x="924" y="1717" width="87" height="20" fill="#ebbe34"/>
<g class="a" font-size="17" text-anchor="middle">
<text x="630" y="1732" textLength="44" lengthAdjust="spacingAndGlyphs">Arm 1</text>
<text x="885" y="1735" textLength="45" lengthAdjust="spacingAndGlyphs">Arm 2</text>
</g>
<rect x="664" y="1864" width="369" height="20" fill="#4ac25a"/>
<rect x="576" y="1895" width="402" height="17" fill="#ebbe34"/>
<line x1="664" y1="1852" x2="664" y2="1921" stroke="#e02020" stroke-width="4"/>
<line x1="954" y1="1852" x2="954" y2="1921" stroke="#1414d0" stroke-width="4"/>
<line x1="553" y1="1921" x2="1033" y2="1921" stroke="#000" stroke-width="3.5" marker-end="url(#akb)"/>
<rect x="677" y="1986" width="306" height="21" fill="#ebbe34"/>
<line x1="677" y1="1978" x2="677" y2="2024" stroke="#e02020" stroke-width="4"/>
<line x1="916" y1="1966" x2="916" y2="2024" stroke="#1414d0" stroke-width="4"/>
<line x1="560" y1="2024" x2="995" y2="2024" stroke="#000" stroke-width="3.5" marker-end="url(#akb)"/>
<path d="M680,2140 Q680,2130 692,2130 L764,2130 Q776,2130 776,2119 Q776,2130 788,2130 L861,2130 Q873,2130 873,2140" fill="none" stroke="#000" stroke-width="2.5"/>
<path d="M595,2157 V2149 H693 V2157 M873,2157 V2149 H971 V2157" fill="none" stroke="#888" stroke-width="3"/>
<g fill="none" stroke="#4ac25a" stroke-width="3" stroke-dasharray="8,6"><rect x="649" y="2132" width="36" height="54"/><rect x="866" y="2133" width="34" height="51"/></g>
<g fill="#7a7a7a" stroke="#222" stroke-width="1.5"><ellipse cx="669" cy="2170" rx="9.5" ry="8"/><ellipse cx="724" cy="2170" rx="9.5" ry="8"/><ellipse cx="840" cy="2170" rx="9.5" ry="8"/><ellipse cx="883" cy="2170" rx="9.5" ry="8"/><ellipse cx="967" cy="2170" rx="9.5" ry="8"/></g>
<line x1="640" y1="2159" x2="640" y2="2196" stroke="#e02020" stroke-width="4"/>
<line x1="921" y1="2158" x2="921" y2="2195" stroke="#1414d0" stroke-width="4"/>
<line x1="600" y1="2193" x2="1014" y2="2193" stroke="#000" stroke-width="3.5" marker-end="url(#akb)"/>
<line x1="644" y1="2109" x2="667" y2="2129" stroke="#000" stroke-width="1.8" marker-end="url(#ak)"/>
<line x1="924" y1="2109" x2="898" y2="2134" stroke="#000" stroke-width="1.8" marker-end="url(#ak)"/>
<g class="a" font-size="17" text-anchor="middle">
<text x="641" y="1941" textLength="78" lengthAdjust="spacingAndGlyphs">Time Zero</text>
<text x="875" y="1942" textLength="162" lengthAdjust="spacingAndGlyphs">Followup Completion</text>
<text x="591" y="2002" textLength="44" lengthAdjust="spacingAndGlyphs">Arm 1</text>
<text x="637" y="2046" textLength="78" lengthAdjust="spacingAndGlyphs">Time Zero</text>
<text x="873" y="2048" textLength="162" lengthAdjust="spacingAndGlyphs">Followup Completion</text>
<text x="621" y="2103" textLength="43" lengthAdjust="spacingAndGlyphs">Value</text>
<text x="791" y="2103" textLength="187" lengthAdjust="spacingAndGlyphs">Minimum Followup Time</text>
<text x="952" y="2103" textLength="43" lengthAdjust="spacingAndGlyphs">Value</text>
<text x="606" y="2139" textLength="99" lengthAdjust="spacingAndGlyphs">Time window</text>
<text x="969" y="2139" textLength="100" lengthAdjust="spacingAndGlyphs">Time window</text>
<text x="647" y="2216" textLength="78" lengthAdjust="spacingAndGlyphs">Time Zero</text>
<text x="851" y="2218" textLength="162" lengthAdjust="spacingAndGlyphs">Followup Completion</text>
</g>
<path d="M828,2350 V2345 H880 V2350" fill="none" stroke="#888" stroke-width="3"/>
<line x1="811" y1="2335" x2="854" y2="2351" stroke="#000" stroke-width="1.8" marker-end="url(#ak)"/>
<g fill="#4a78d0" stroke="#1a2a60" stroke-width="1.5"><ellipse cx="798" cy="2365" rx="9.5" ry="8"/><ellipse cx="881" cy="2364" rx="9.5" ry="8"/></g>
<rect x="865" y="2350" width="34" height="32" fill="none" stroke="#4ac25a" stroke-width="3" stroke-dasharray="8,6"/>
<line x1="860" y1="2351" x2="860" y2="2389" stroke="#1414d0" stroke-width="4"/>
<line x1="669" y1="2389" x2="911" y2="2389" stroke="#000" stroke-width="3.5" marker-end="url(#akb)"/>
<g class="a" font-size="17" text-anchor="middle">
<text x="749" y="2327" textLength="125" lengthAdjust="spacingAndGlyphs">Biomarker value</text>
<text x="904" y="2333" textLength="100" lengthAdjust="spacingAndGlyphs">Time window</text>
<text x="850" y="2415" textLength="162" lengthAdjust="spacingAndGlyphs">Followup Completion</text>
</g>
<rect x="1184" y="1720" width="176" height="29" fill="none" stroke="#4ac25a" stroke-width="3" stroke-dasharray="10,7"/>
<g fill="#7a7a7a" stroke="#222" stroke-width="1.5"><ellipse cx="1224" cy="1736" rx="9.5" ry="8"/><ellipse cx="1279" cy="1736" rx="9.5" ry="8"/><ellipse cx="1337" cy="1736" rx="9.5" ry="8"/><ellipse cx="1405" cy="1737" rx="9.5" ry="8"/><ellipse cx="1453" cy="1736" rx="9.5" ry="8"/></g>
<line x1="1371" y1="1721" x2="1371" y2="1759" stroke="#e02020" stroke-width="4"/>
<line x1="1162" y1="1760" x2="1512" y2="1760" stroke="#000" stroke-width="3.5" marker-end="url(#akb)"/>
<rect x="1135" y="1827" width="300" height="21" fill="#ebbe34"/>
<line x1="1135" y1="1824" x2="1135" y2="1861" stroke="#000" stroke-width="4"/>
<line x1="1437" y1="1824" x2="1437" y2="1861" stroke="#1414d0" stroke-width="4"/>
<line x1="1117" y1="1861" x2="1529" y2="1861" stroke="#000" stroke-width="3.5" marker-end="url(#akb)"/>
<rect x="1192" y="1932" width="280" height="32" fill="none" stroke="#4ac25a" stroke-width="3" stroke-dasharray="10,7"/>
<g fill="#f01010" stroke="#400" stroke-width="1.5"><ellipse cx="1214" cy="1949" rx="9.5" ry="8"/><ellipse cx="1256" cy="1949" rx="9.5" ry="8"/><ellipse cx="1297" cy="1949" rx="9.5" ry="8"/><ellipse cx="1449" cy="1949" rx="9.5" ry="8"/></g>
<line x1="1173" y1="1936" x2="1173" y2="1973" stroke="#e02020" stroke-width="4"/>
<line x1="1485" y1="1935" x2="1485" y2="1973" stroke="#1414d0" stroke-width="4"/>
<line x1="1125" y1="1973" x2="1537" y2="1973" stroke="#000" stroke-width="3.5" marker-end="url(#akb)"/>
<g class="a" font-size="17" text-anchor="middle">
<text x="1445" y="1719" textLength="44" lengthAdjust="spacingAndGlyphs">Event</text>
<text x="1348" y="1786" textLength="78" lengthAdjust="spacingAndGlyphs">Time Zero</text>
<text x="1279" y="1810" textLength="167" lengthAdjust="spacingAndGlyphs">Baseline confounders</text>
<text x="1368" y="1884" textLength="161" lengthAdjust="spacingAndGlyphs">Followup Completion</text>
<text x="1264" y="1914" textLength="179" lengthAdjust="spacingAndGlyphs">Period of standard care</text>
<text x="1130" y="1949" textLength="32" lengthAdjust="spacingAndGlyphs">Visit</text>
<text x="1157" y="1993" textLength="78" lengthAdjust="spacingAndGlyphs">Time Zero</text>
<text x="1376" y="1996" textLength="161" lengthAdjust="spacingAndGlyphs">Followup Completion</text>
<text x="1272" y="2031" textLength="181" lengthAdjust="spacingAndGlyphs">Healthcare accessibility</text>
</g>
<text x="1109" y="1881" class="a" font-size="17">1<tspan font-size="11" dy="-7">st</tspan><tspan dy="7"> HF drug</tspan></text>
<path d="M1295,2180 C1312,2180 1310,2124 1326,2124 C1342,2124 1342,2180 1364,2180" fill="none" stroke="#1a1ac8" stroke-width="2.5"/>
<g fill="none" stroke="#4ac25a" stroke-width="3" stroke-dasharray="7,5"><rect x="1293" y="2152" width="32" height="23"/><rect x="1325" y="2126" width="31" height="24"/></g>
<g fill="#5cc0f0"><ellipse cx="1305" cy="2166" rx="5" ry="3.5"/><ellipse cx="1315" cy="2164" rx="5" ry="3.5"/><ellipse cx="1332" cy="2139" rx="5" ry="3.5"/><ellipse cx="1345" cy="2143" rx="5" ry="3.5"/></g>
<g fill="none" stroke-width="2.5">
<path d="M1208,2284 C1228,2284 1225,2228 1244,2228 C1263,2228 1260,2284 1280,2284" stroke="#e87020"/>
<path d="M1246,2284 C1266,2284 1263,2228 1282,2228 C1301,2228 1298,2284 1318,2284" stroke="#1a1ac8"/>
<path d="M1347,2284 C1367,2284 1364,2228 1384,2228 C1403,2228 1400,2284 1420,2284" stroke="#e87020"/>
<path d="M1359,2284 C1379,2284 1376,2228 1396,2228 C1415,2228 1412,2284 1432,2284" stroke="#1a1ac8"/>
</g>
<line x1="1309" y1="2254" x2="1354" y2="2254" stroke="#000" stroke-width="2" marker-end="url(#ak)"/>
<line x1="1243" y1="2339" x2="1412" y2="2339" stroke="#555" stroke-width="2"/>
<rect x="1269" y="2331" width="43" height="17" fill="#4f80d0" stroke="#333" stroke-width="2"/>
<line x1="1244" y1="2351" x2="1244" y2="2368" stroke="#000" stroke-width="4"/>
<line x1="1408" y1="2351" x2="1408" y2="2368" stroke="#000" stroke-width="4"/>
<line x1="1217" y1="2368" x2="1459" y2="2368" stroke="#000" stroke-width="3.5" marker-end="url(#akb)"/>
<g class="a" font-size="17" text-anchor="middle">
<text x="1332" y="2199" textLength="96" lengthAdjust="spacingAndGlyphs">Missing data</text>
<text x="1332" y="2307" textLength="157" lengthAdjust="spacingAndGlyphs">Confounder Balance</text>
<text x="1211" y="2387" textLength="77" lengthAdjust="spacingAndGlyphs">Min Score</text>
<text x="1415" y="2389" textLength="82" lengthAdjust="spacingAndGlyphs">Max Score</text>
<text x="1329" y="2415" textLength="134" lengthAdjust="spacingAndGlyphs">Effective Analysis</text>
</g>
</svg>
</body></html>
